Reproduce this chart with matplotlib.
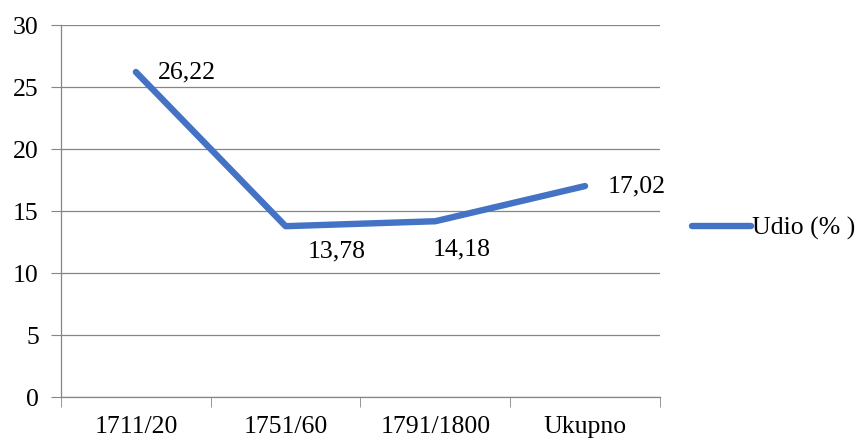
import matplotlib.pyplot as plt
from matplotlib.lines import Line2D

plt.rcParams['font.family'] = ['Liberation Serif', 'DejaVu Serif']

categories = ['1711/20', '1751/60', '1791/1800', 'Ukupno']
values = [26.22, 13.78, 14.18, 17.02]
value_labels = ['26,22', '13,78', '14,18', '17,02']
series_name = 'Udio (% )'

fig = plt.figure(figsize=(8.63, 4.38), dpi=100)
ax = fig.add_axes([0.0707, 0.0936, 0.694, 0.849])

x = range(len(categories))
ax.plot(x, values, color='#4472C4', lw=4.6, solid_capstyle='round',
        solid_joinstyle='round', zorder=3)

# label offsets (points) like excel
offsets = [(16, 0), (16, -18), (-2, -20), (16, 0)]
for i, (v, lab) in enumerate(zip(values, value_labels)):
    ax.annotate(lab, (i, v), xytext=offsets[i], textcoords='offset points',
                ha='left', va='center', fontsize=18.5)

ax.set_xlim(-0.5, len(categories) - 0.5)
ax.set_ylim(0, 30)
ax.set_yticks(range(0, 31, 5))
ax.set_xticks(list(x))
ax.set_xticklabels(categories, fontsize=18.5)
ax.tick_params(axis='y', labelsize=18.5, length=7, color='#868686', pad=9)
ax.tick_params(axis='x', length=0, pad=14)
# category boundary tick marks
ax.set_xticks([i - 0.5 for i in range(len(categories) + 1)], minor=True)
ax.tick_params(axis='x', which='minor', length=7, color='#868686')

ax.grid(axis='y', color='#868686', lw=0.9)
ax.set_axisbelow(True)
for s in ['top', 'right']:
    ax.spines[s].set_visible(False)
for s in ['left', 'bottom']:
    ax.spines[s].set_color('#868686')
    ax.spines[s].set_linewidth(0.9)

handle = Line2D([], [], color='#4472C4', lw=4.6, solid_capstyle='round')
fig.legend([handle], [series_name], loc='center left',
           bbox_to_anchor=(0.796, 0.478), frameon=False, fontsize=18.5,
           handlelength=2.3, handletextpad=0.05, borderaxespad=0,
           borderpad=0.2)

fig.savefig('out.png', dpi=100)
